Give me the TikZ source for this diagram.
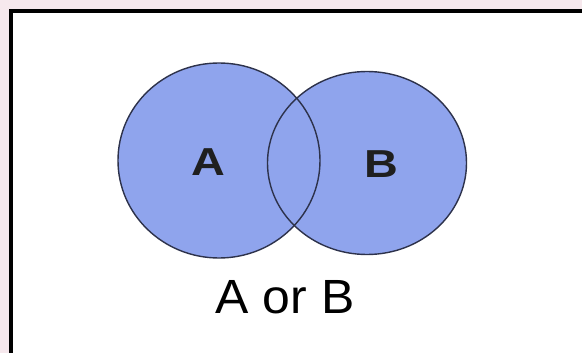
\documentclass[tikz,border=0pt]{standalone}
\usepackage{fontspec}
\setmainfont{Liberation Sans}
\definecolor{pnk}{RGB}{246,232,237}
\definecolor{blu}{RGB}{143,164,237}
\definecolor{rim}{RGB}{45,50,75}
\begin{document}
\begin{tikzpicture}[x=1pt,y=-1pt]
    \coordinate (P0) at (0,0);
    \coordinate (P1) at (582,353);
    \coordinate (F0) at (9,9);
    \coordinate (F1) at (13,13);
    \coordinate (CA) at (219,160.5);
    \coordinate (CB) at (367,163);
    %
    \useasboundingbox (P0) rectangle (P1);
    \fill[pnk] (P0) rectangle (P1);
    \fill[black] (F0) rectangle (P1);
    \fill[white] (F1) rectangle (P1);
    %
    \fill[blu] (CA) ellipse [x radius=101,y radius=97.5];
    \fill[blu] (CB) ellipse [x radius=99.5,y radius=91.5];
    %
    \begin{scope}[rim,line width=1.4pt]
        \draw (CA) ellipse [x radius=101,y radius=97.5];
        \draw (CB) ellipse [x radius=99.5,y radius=91.5];
    \end{scope}
    %
    \node[font=\fontsize{39}{41}\selectfont\bfseries,xscale=1.2,text=black!88] (labA) at (208,162) {A};
    \node[font=\fontsize{39}{41}\selectfont\bfseries,xscale=1.2,text=black!88] (labB) at (381,164) {B};
    \node[font=\fontsize{48}{50}\selectfont,xscale=1.04] (labAB) at (285,297) {A or B};
    %
\end{tikzpicture}
\end{document}
